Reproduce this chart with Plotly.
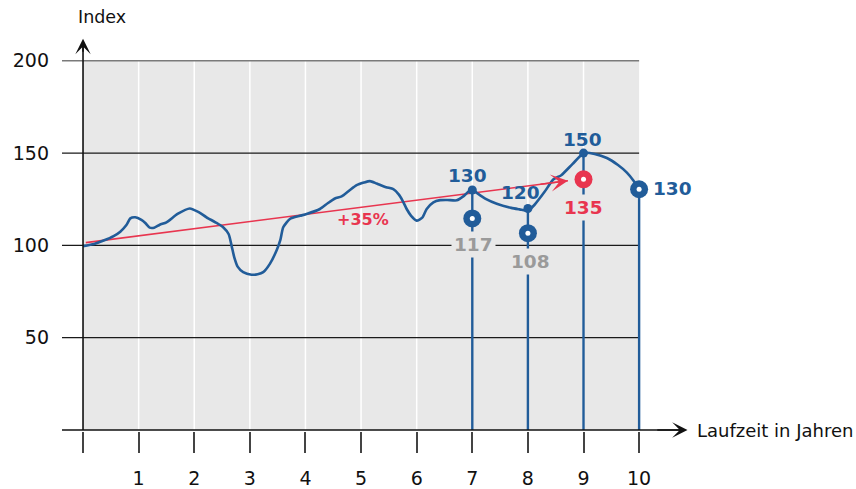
import plotly.graph_objects as go

# ---------------- data ----------------
curve_x = [0.0, 0.2, 0.37, 0.55, 0.67, 0.78, 0.85, 0.94, 1.05, 1.12, 1.2, 1.28, 1.38, 1.5, 1.7,
           1.92, 2.08, 2.22, 2.38, 2.52, 2.62, 2.67, 2.72, 2.78, 2.88, 3.03, 3.14, 3.24, 3.36,
           3.48, 3.55, 3.6, 3.72, 3.9, 4.02, 4.26, 4.4, 4.53, 4.65, 4.8, 4.92, 5.05, 5.16, 5.28,
           5.45, 5.58, 5.68, 5.75, 5.82, 5.9, 6.0, 6.1, 6.18, 6.3, 6.42, 6.55, 6.72, 6.85, 6.99,
           7.1, 7.25, 7.44, 7.7, 7.85, 8.0, 8.12, 8.3, 8.46, 8.6, 8.8, 9.01, 9.2, 9.42, 9.62,
           9.78, 9.9, 10.0]
curve_y = [99.6, 100.8, 102.6, 105.0, 107.4, 111.0, 114.6, 115.2, 113.8, 112.1, 109.6, 109.6,
           111.2, 112.5, 117.0, 120.0, 118.0, 115.2, 112.5, 109.8, 106.0, 100.0, 93.5, 88.5,
           85.5, 84.1, 84.4, 85.5, 90.0, 97.2, 103.1, 109.8, 114.3, 116.0, 117.0, 119.7, 122.8,
           125.4, 126.5, 130.0, 132.6, 134.0, 134.8, 133.5, 131.5, 130.5, 127.5, 124.0, 119.7,
           116.0, 113.4, 115.0, 119.7, 123.3, 124.5, 124.6, 124.4, 126.8, 130.5, 128.0, 125.0,
           122.5, 120.3, 119.5, 118.8, 122.0, 129.0, 135.8, 138.0, 144.0, 150.0, 149.5, 147.3,
           143.5, 139.4, 135.0, 130.4]

trend_x = [0.05, 8.72]
trend_y = [101.5, 135.0]
trend_label = "+35%"

stem_x = [7, 8, 9, 10]
stem_top = [130, 120, 150, 130]
stem_labels = ["130", "120", "150", "130"]

ring_x = [7, 8, 9, 10]
ring_y = [114.6, 106.6, 135.8, 130.4]
ring_labels = ["117", "108", "135", "130"]

x_ticks = [0, 1, 2, 3, 4, 5, 6, 7, 8, 9, 10]
x_ticktext = ["", "1", "2", "3", "4", "5", "6", "7", "8", "9", "10"]
y_ticks = [50, 100, 150, 200]

BLUE = "#215c99"
RED = "#e8354f"
GREY = "#9a9a9a"
BG = "#e8e8e8"
FONT = "DejaVu Sans"

XMIN, XMAX = -0.378, 13.9
YMIN, YMAX = -0.54, 232.9

fig = go.Figure()

# red trend line
fig.add_trace(go.Scatter(x=trend_x, y=trend_y, mode="lines",
                         line=dict(color=RED, width=1.6), hoverinfo="skip"))
# main curve
fig.add_trace(go.Scatter(x=curve_x, y=curve_y, mode="lines",
                         line=dict(color=BLUE, width=2.6, shape="spline", smoothing=0.6),
                         hoverinfo="skip"))
# stems
sx, sy = [], []
for x, t in zip(stem_x, stem_top):
    sx += [x, x, None]
    sy += [0, t, None]
fig.add_trace(go.Scatter(x=sx, y=sy, mode="lines", line=dict(color=BLUE, width=2.4),
                         hoverinfo="skip"))
# small dots on top of stems (first three)
fig.add_trace(go.Scatter(x=stem_x[:3], y=stem_top[:3], mode="markers",
                         marker=dict(color=BLUE, size=9), hoverinfo="skip"))
# rings
ring_colors = [BLUE, BLUE, RED, BLUE]
fig.add_trace(go.Scatter(x=ring_x, y=ring_y, mode="markers",
                         marker=dict(color=ring_colors, size=18, line=dict(width=0)),
                         hoverinfo="skip", cliponaxis=False))
fig.add_trace(go.Scatter(x=ring_x, y=ring_y, mode="markers",
                         marker=dict(color="white", size=5, line=dict(width=0)),
                         hoverinfo="skip", cliponaxis=False))

shapes = []
# plot background
shapes.append(dict(type="rect", xref="x", yref="y", x0=0, x1=10, y0=0, y1=200,
                   fillcolor=BG, line=dict(width=0), layer="below"))
# vertical white gridlines
for v in x_ticks[1:-1]:
    shapes.append(dict(type="line", xref="x", yref="y", x0=v, x1=v, y0=0, y1=200,
                       line=dict(color="white", width=1.5), layer="below"))
# horizontal gridlines (extend left as ticks)
for v in y_ticks:
    col = "#7a7a7a" if v == 200 else "#1a1a1a"
    shapes.append(dict(type="line", xref="x", yref="y", x0=XMIN, x1=10, y0=v, y1=v,
                       line=dict(color=col, width=1.5 if v == 200 else 1.2), layer="below"))
# axes lines
shapes.append(dict(type="line", xref="x", yref="y", x0=XMIN, x1=10.8, y0=0, y1=0,
                   line=dict(color="#111", width=1.6), layer="above"))
shapes.append(dict(type="line", xref="x", yref="y", x0=0, x1=0, y0=0, y1=210,
                   line=dict(color="#111", width=1.6), layer="above"))

annotations = []
# axis arrows
annotations.append(dict(x=10.87, y=0, ax=10.3, ay=0, axref="x", ayref="y", xref="x", yref="y",
                        text="", showarrow=True, arrowhead=3, arrowsize=1.6, arrowwidth=1.6,
                        arrowcolor="#111"))
annotations.append(dict(x=0, y=211.9, ax=0, ay=204, axref="x", ayref="y", xref="x", yref="y",
                        text="", showarrow=True, arrowhead=3, arrowsize=1.6, arrowwidth=1.6,
                        arrowcolor="#111"))
# trend arrowhead
tail_x = 8.2
tail_y = trend_y[0] + (trend_y[1] - trend_y[0]) * (tail_x - trend_x[0]) / (trend_x[1] - trend_x[0])
annotations.append(dict(x=trend_x[1], y=trend_y[1], ax=tail_x, ay=tail_y,
                        axref="x", ayref="y", xref="x", yref="y", text="", showarrow=True,
                        arrowhead=3, arrowsize=1.8, arrowwidth=1.6, arrowcolor=RED))
# axis titles
annotations.append(dict(x=0.34, y=223.7, xref="x", yref="y", text="Index", showarrow=False,
                        font=dict(family=FONT, size=17.5, color="#111"),
                        xanchor="center", yanchor="middle"))
annotations.append(dict(x=11.0, y=0, xref="x", yref="y", text="Laufzeit in Jahren",
                        showarrow=False, font=dict(family=FONT, size=18, color="#111"),
                        xanchor="left", yanchor="middle"))
# trend label
annotations.append(dict(x=5.04, y=113.8, xref="x", yref="y", text=trend_label, showarrow=False,
                        font=dict(family=FONT, size=16, color=RED, weight="bold"),
                        xanchor="center", yanchor="middle"))
# stem labels
stem_label_pos = [(6.91, 138.0), (7.87, 128.5), (8.98, 157.2), (10.6, 130.7)]
for (lx, ly), t in zip(stem_label_pos, stem_labels):
    annotations.append(dict(x=lx, y=ly, xref="x", yref="y", text=t, showarrow=False,
                            font=dict(family=FONT, size=18.5, color=BLUE, weight="bold"),
                            xanchor="center", yanchor="middle"))
# ring labels (with plot-coloured background)
ring_label_pos = [(7.03, 100.4), (8.04, 91.4), (9.0, 120.6)]
ring_label_cols = [GREY, GREY, RED]
for (lx, ly), t, c in zip(ring_label_pos, ring_labels[:3], ring_label_cols):
    annotations.append(dict(x=lx, y=ly, xref="x", yref="y", text=t, showarrow=False,
                            font=dict(family=FONT, size=18.5, color=c, weight="bold"),
                            bgcolor=BG, borderpad=2,
                            xanchor="center", yanchor="middle"))

fig.update_layout(
    width=856, height=489,
    margin=dict(l=62, r=0, t=0, b=56, pad=0),
    paper_bgcolor="white", plot_bgcolor="white",
    showlegend=False,
    shapes=shapes, annotations=annotations,
    xaxis=dict(range=[XMIN, XMAX], tickvals=x_ticks, ticktext=x_ticktext, ticks="outside",
               ticklen=21, tickwidth=1.5, tickcolor="#444", showgrid=False, zeroline=False,
               showline=False, ticklabelstandoff=9, fixedrange=True,
               tickfont=dict(family=FONT, size=19, color="#111")),
    yaxis=dict(range=[YMIN, YMAX], tickvals=y_ticks, ticks="", showgrid=False, zeroline=False,
               showline=False, ticklabelstandoff=12, fixedrange=True,
               tickfont=dict(family=FONT, size=19, color="#111")),
)

fig.write_html("out.html", config={"displayModeBar": False},
               post_script="document.body.style.margin='0px';document.body.style.overflow='hidden';")
